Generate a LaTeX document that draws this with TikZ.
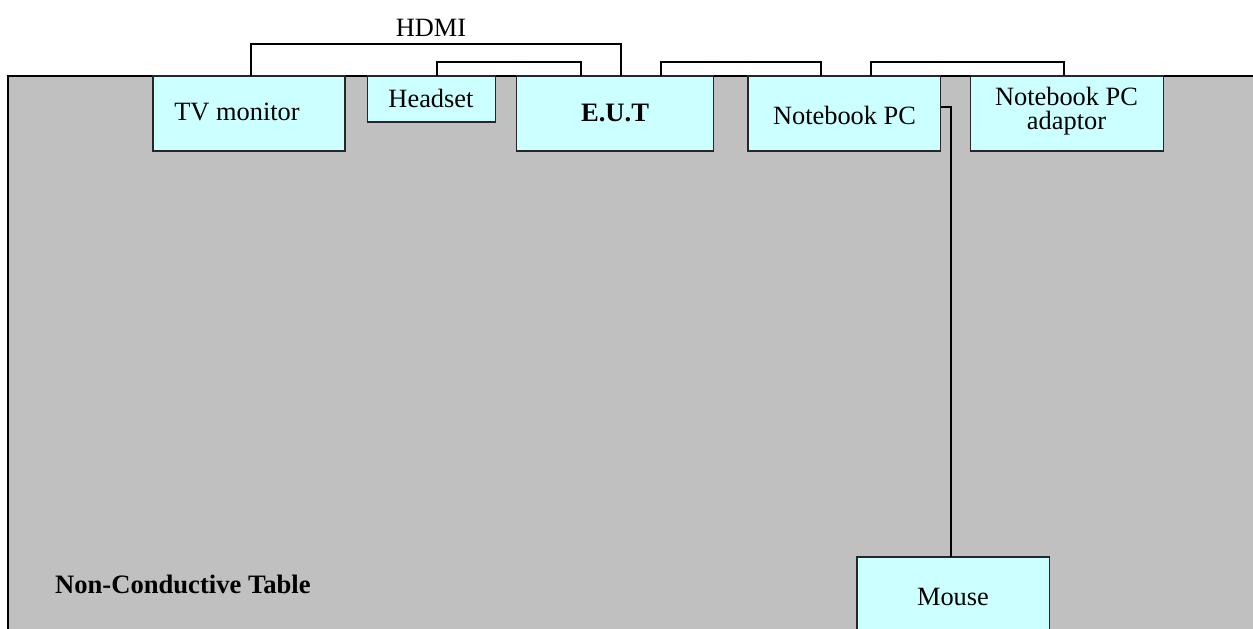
\documentclass[tikz,border=0pt]{standalone}
\usepackage{fontspec}
\setmainfont{Liberation Serif}
\tikzset{
  tablebox/.style={draw=black,fill=tablegray,line width=2pt,anchor=north west,inner sep=0pt,minimum width=1400pt,minimum height=700pt},
  devbox/.style={draw=black!85,fill=devcyan,line width=1.6pt,anchor=north west,inner sep=0pt,outer sep=0pt},
  cable/.style={draw=black,line width=2pt,line join=miter},
  txt/.style={anchor=base,inner sep=0pt,text=black,font=\fontsize{26.4}{26.4}\selectfont,align=center},
  btxt/.style={txt,font=\fontsize{26.6}{26.6}\selectfont\bfseries}
}
\definecolor{tablegray}{HTML}{C0C0C0}
\definecolor{devcyan}{HTML}{CCFFFF}
\begin{document}
\begin{tikzpicture}[x=1pt,y=-1pt]
\useasboundingbox (0,0) rectangle (1253,629);
\clip (0,0) rectangle (1253,629);
\node[tablebox] (table) at (7,75) {};
% device boxes first so the cables can refer to them
\path
  node[devbox,minimum width=192pt,minimum height=75pt] (tv) at (153,76) {}
  node[devbox,minimum width=128pt,minimum height=46pt] (headset) at (367.5,76) {}
  node[devbox,minimum width=197pt,minimum height=75pt] (eut) at (516.5,76) {}
  node[devbox,minimum width=192.5pt,minimum height=75pt] (nb) at (748,76) {}
  node[devbox,minimum width=193pt,minimum height=75pt] (adp) at (970.5,76) {}
  node[devbox,minimum width=192.5pt,minimum height=100pt] (mouse) at (857,557) {};
% cables
\draw[cable] ([xshift=97.7pt]tv.north west) -- ++(0,-32) -| ([xshift=104.5pt]eut.north west);
\draw[cable] ([xshift=69pt]headset.north west) -- ++(0,-14) -| ([xshift=64.3pt]eut.north west);
\draw[cable] ([xshift=144.1pt]eut.north west) -- ++(0,-14) -| ([xshift=73pt]nb.north west);
\draw[cable] ([xshift=123pt]nb.north west) -- ++(0,-14) -| ([xshift=93pt]adp.north west);
\draw[cable] ([yshift=-30.5pt]nb.north east) -| ([xshift=94pt]mouse.north west);
% text
\node[txt] (hdmi) at (431,36) {HDMI};
\node[txt] (tvt) at (237,120) {TV monitor};
\node[txt] (hst) at (431,107) {Headset};
\node[btxt] (eutt) at (615,121) {E.U.T};
\node[txt] (nbt) at (844.5,124) {Notebook PC};
\node[txt] (adpt1) at (1066.5,105) {Notebook PC};
\node[txt] (adpt2) at (1066.5,129) {adaptor};
\node[txt] (mouset) at (953,605) {Mouse};
\node[btxt,anchor=base west] (tablet) at (55,593) {Non-Conductive Table};
\end{tikzpicture}
\end{document}
